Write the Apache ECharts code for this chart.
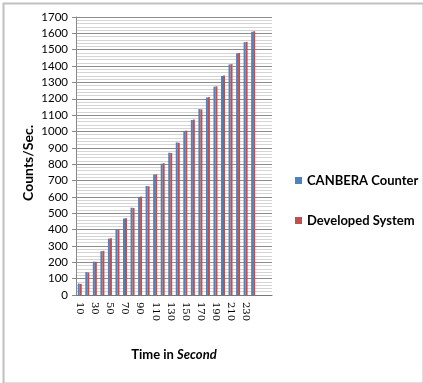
<!DOCTYPE html>
<html><head><meta charset="utf-8">
<script src="https://cdn.jsdelivr.net/npm/echarts@6/dist/echarts.min.js"></script>
<style>html,body{margin:0;padding:0;background:#fff}#c{width:423px;height:383px}</style>
</head><body><div id="c"></div>
<script>
const categories = ['10','20','30','40','50','60','70','80','90','100','110','120','130','140','150','160','170','180','190','200','210','220','230','240','',''];
const canberra = [70,140,204,268,345,402,468,534,600,667,737,803,870,933,1003,1070,1137,1208,1274,1339,1410,1478,1546,1610,null,null];
const developed = [68,138,203,270,347,400,470,532,602,665,738,806,868,931,1005,1073,1135,1210,1276,1342,1412,1480,1548,1613,null,null];
const yTicks = {min:0, max:1700, interval:100};

const chart = echarts.init(document.getElementById('c'));
chart.setOption({
  animation:false,
  grid:{left:76, right:151, top:17, bottom:88},
  legend:{
    orient:'vertical', left:290, top:169,
    itemWidth:7, itemHeight:7, itemGap:27, icon:'rect',
    textStyle:{fontFamily:'Lato', fontSize:13, color:'#000', fontWeight:'bold'},
    data:['CANBERA Counter','Developed System']
  },
  xAxis:{
    type:'category', data:categories,
    axisLine:{lineStyle:{color:'#777', width:1}},
    axisTick:{show:false},
    axisLabel:{interval:1, rotate:-90, fontFamily:'DejaVu Serif', fontSize:10, color:'#000', margin:7},
  },
  yAxis:{
    type:'value', min:yTicks.min, max:yTicks.max, interval:yTicks.interval,
    axisLine:{show:true, lineStyle:{color:'#888'}},
    axisTick:{show:true, length:4, lineStyle:{color:'#888'}},
    axisLabel:{fontFamily:'Lato', fontSize:11.5, color:'#000', margin:8, formatter:v=>String(v)},
    splitLine:{lineStyle:{color:'#8c8c8c', width:1}},
    minorTick:{show:false, splitNumber:5},
    minorSplitLine:{show:true, lineStyle:{color:'#d4d4d4', width:1}}
  },
  series:[
    {name:'CANBERA Counter', type:'bar', data:canberra, barWidth:2, barGap:'0%', itemStyle:{color:'#4F81BD'}},
    {name:'Developed System', type:'bar', data:developed, barWidth:2, barGap:'0%', itemStyle:{color:'#C0504D'}}
  ],
  graphic:[
    {type:'rect', left:1, top:1, shape:{width:420, height:380}, style:{fill:'none', stroke:'#c0c0c0', lineWidth:2}, silent:true},
    {type:'text', x:28, y:163, rotation:Math.PI/2, style:{text:'Counts/Sec.', fontFamily:'Lato', fontSize:14, fontWeight:'bold', fill:'#000', align:'center', verticalAlign:'middle'}},
    {type:'text', x:174, y:355, style:{text:'{a|Time in }{b|Second}', align:'center', verticalAlign:'middle',
      rich:{a:{fontFamily:'Lato', fontSize:13, fontWeight:'bold', fill:'#000'}, b:{fontFamily:'Lato', fontSize:13, fontWeight:'bold', fontStyle:'italic', fill:'#000'}}}}
  ]
});
</script></body></html>
